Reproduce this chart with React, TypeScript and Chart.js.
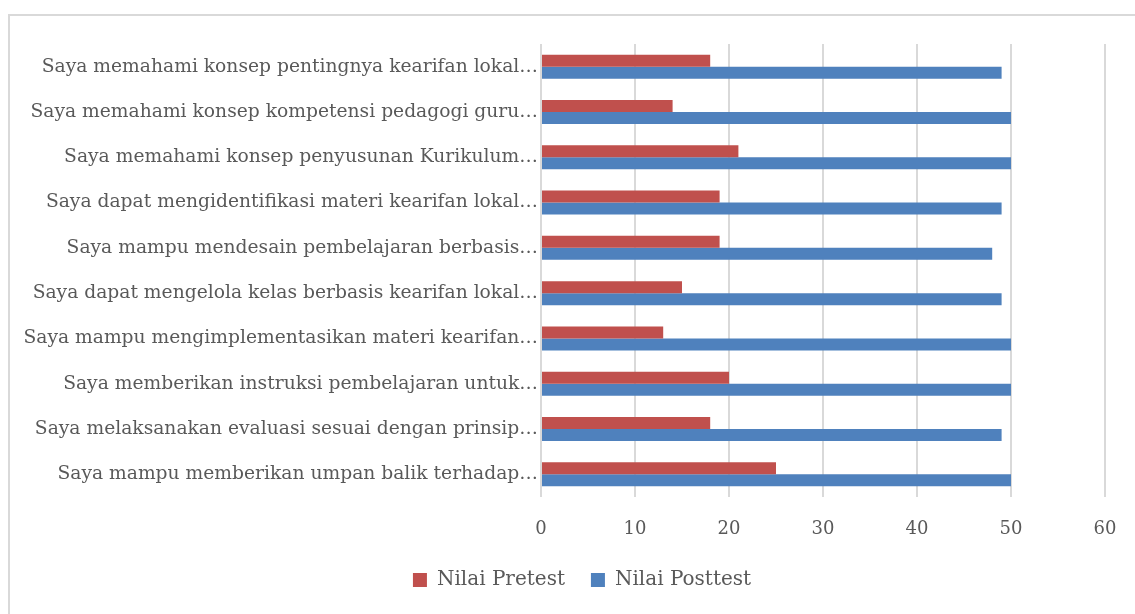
import React, { useEffect, useRef } from "react";
import { Chart, registerables } from "chart.js";

Chart.register(...registerables);

const categories = [
  "Saya memahami konsep pentingnya kearifan lokal…",
  "Saya memahami konsep kompetensi pedagogi guru…",
  "Saya memahami konsep penyusunan Kurikulum…",
  "Saya dapat mengidentifikasi materi kearifan lokal…",
  "Saya mampu mendesain pembelajaran berbasis…",
  "Saya dapat mengelola kelas berbasis kearifan lokal…",
  "Saya mampu mengimplementasikan materi kearifan…",
  "Saya memberikan instruksi pembelajaran untuk…",
  "Saya melaksanakan evaluasi sesuai dengan prinsip…",
  "Saya mampu memberikan umpan balik terhadap…",
];

const pretestValues = [18, 14, 21, 19, 19, 15, 13, 20, 18, 25];
const posttestValues = [49, 50, 50, 49, 48, 49, 50, 50, 49, 50];

const seriesNames = ["Nilai Pretest", "Nilai Posttest"];
const xTicks = [0, 10, 20, 30, 40, 50, 60];

const FONT = "'DejaVu Serif', serif";

const legendShift = {
  id: "legendShift",
  afterLayout(chart: any) {
    const lg = chart.legend;
    if (lg) {
      const dx = 582 - 10 - (lg.left + lg.right) / 2;
      lg.left += dx;
      lg.right += dx;
    }
  },
};

export default function App() {
  const canvasRef = useRef<HTMLCanvasElement | null>(null);

  useEffect(() => {
    if (!canvasRef.current) return;
    const chart = new Chart(canvasRef.current, {
      type: "bar",
      plugins: [legendShift],
      data: {
        labels: categories,
        datasets: [
          {
            label: seriesNames[0],
            data: pretestValues,
            backgroundColor: "#C0504D",
            borderWidth: 0,
            categoryPercentage: 0.53,
            barPercentage: 1,
          },
          {
            label: seriesNames[1],
            data: posttestValues,
            backgroundColor: "#4F81BD",
            borderWidth: 0,
            categoryPercentage: 0.53,
            barPercentage: 1,
          },
        ],
      },
      options: {
        indexAxis: "y",
        animation: false,
        responsive: false,
        maintainAspectRatio: false,
        layout: { padding: { left: 0, right: 30, top: 28, bottom: 14 } },
        plugins: {
          tooltip: { enabled: false },
          legend: {
            position: "bottom",
            labels: {
              font: { family: FONT, size: 20 },
              color: "#595959",
              boxWidth: 14,
              boxHeight: 14,
              padding: 26,
            },
          },
        },
        scales: {
          x: {
            min: 0,
            max: 60,
            afterBuildTicks: (scale: any) => {
              scale.ticks = xTicks.map((v) => ({ value: v }));
            },
            afterFit: (scale: any) => {
              scale.height = 47;
              scale.paddingRight = 12;
              scale.paddingLeft = 0;
            },
            grid: { color: "#d9d9d9", lineWidth: 2, drawTicks: false },
            border: { display: false },
            ticks: {
              font: { family: FONT, size: 18 },
              color: "#595959",
              padding: 22,
            },
          },
          y: {
            afterFit: (scale: any) => {
              scale.width = 531;
            },
            grid: { display: false, drawTicks: false },
            border: { display: false },
            ticks: {
              font: { family: FONT, size: 18.7 },
              color: "#595959",
              padding: 3,
              autoSkip: false,
            },
          },
        },
      },
    });
    return () => chart.destroy();
  }, []);

  return (
    <div
      style={{
        position: "absolute",
        left: 8,
        top: 14,
        width: 1140,
        height: 610,
        borderTop: "2px solid #d9d9d9",
        borderLeft: "2px solid #d9d9d9",
        boxSizing: "border-box",
        background: "#fff",
      }}
    >
      <canvas ref={canvasRef} width={1125} height={598} style={{ display: "block" }} />
    </div>
  );
}
